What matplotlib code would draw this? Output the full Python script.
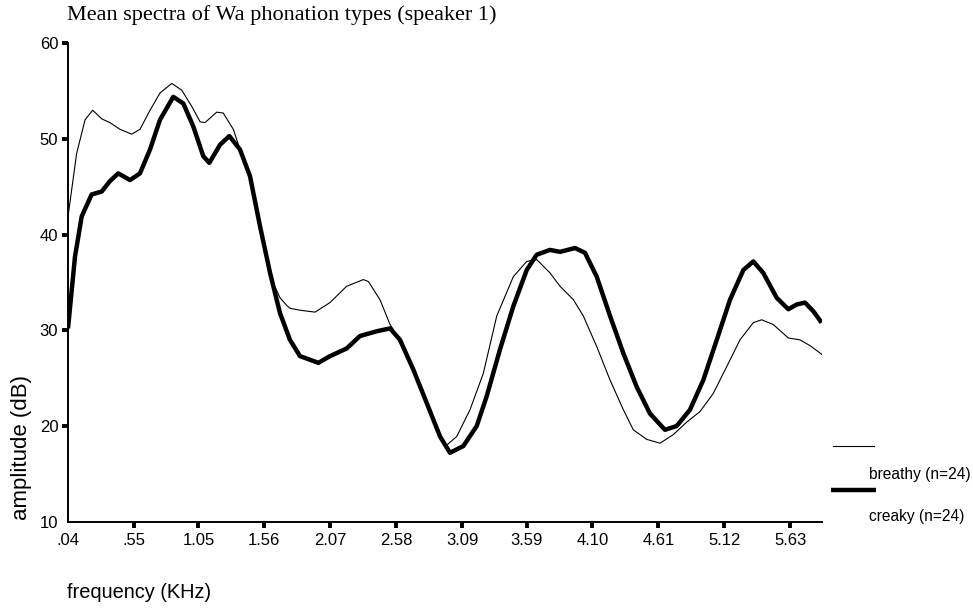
import matplotlib
matplotlib.use('Agg')
import matplotlib.pyplot as plt
from matplotlib.lines import Line2D

# frequency (kHz) / amplitude (dB)
breathy_freq = [0.04, 0.107, 0.172, 0.231, 0.301, 0.365, 0.443, 0.533, 0.597, 0.675,
                0.752, 0.843, 0.920, 0.998, 1.062, 1.100, 1.191, 1.242, 1.320, 1.371,
                1.449, 1.526, 1.604, 1.627, 1.681, 1.733, 1.758, 1.836, 1.952, 2.068,
                2.197, 2.326, 2.365, 2.455, 2.533, 2.610, 2.713, 2.817, 2.920, 2.972,
                3.049, 3.152, 3.255, 3.359, 3.487, 3.591, 3.668, 3.771, 3.849, 3.952,
                4.029, 4.133, 4.236, 4.339, 4.416, 4.520, 4.623, 4.726, 4.829, 4.932,
                5.035, 5.139, 5.242, 5.345, 5.410, 5.500, 5.616, 5.706, 5.784, 5.874]
breathy_db = [41.9, 48.5, 52.0, 53.0, 52.1, 51.7, 51.0, 50.5, 51.0, 53.0,
              54.8, 55.8, 55.1, 53.4, 51.8, 51.7, 52.8, 52.7, 51.0, 48.9,
              46.1, 40.9, 36.2, 35.0, 33.4, 32.6, 32.3, 32.1, 31.9, 32.9,
              34.6, 35.3, 35.1, 33.2, 30.6, 29.0, 25.9, 22.4, 18.9, 18.0,
              18.9, 21.7, 25.5, 31.5, 35.6, 37.2, 37.4, 36.0, 34.6, 33.2,
              31.5, 28.3, 24.8, 21.7, 19.6, 18.6, 18.2, 19.1, 20.4, 21.5,
              23.4, 26.2, 29.0, 30.8, 31.1, 30.6, 29.2, 29.0, 28.4, 27.5]

creaky_freq = [0.04, 0.094, 0.146, 0.223, 0.301, 0.365, 0.429, 0.520, 0.597, 0.675,
               0.752, 0.855, 0.933, 1.010, 1.087, 1.134, 1.217, 1.289, 1.371, 1.449,
               1.526, 1.604, 1.681, 1.758, 1.836, 1.978, 2.068, 2.197, 2.300, 2.430,
               2.533, 2.610, 2.713, 2.817, 2.920, 2.997, 3.100, 3.204, 3.281, 3.384,
               3.487, 3.591, 3.668, 3.771, 3.849, 3.965, 4.042, 4.133, 4.236, 4.339,
               4.442, 4.545, 4.661, 4.752, 4.855, 4.958, 5.062, 5.165, 5.268, 5.345,
               5.422, 5.526, 5.616, 5.681, 5.745, 5.809, 5.874]
creaky_db = [30.2, 37.7, 41.9, 44.2, 44.5, 45.6, 46.4, 45.7, 46.4, 48.9,
             52.0, 54.4, 53.7, 51.3, 48.2, 47.5, 49.4, 50.3, 48.9, 46.1,
             40.9, 36.0, 31.8, 29.0, 27.3, 26.6, 27.3, 28.1, 29.4, 29.9,
             30.2, 29.0, 25.9, 22.4, 18.9, 17.2, 17.9, 20.0, 23.1, 28.0,
             32.5, 36.3, 37.9, 38.4, 38.2, 38.6, 38.1, 35.6, 31.5, 27.6,
             24.1, 21.3, 19.6, 20.0, 21.7, 24.8, 29.0, 33.2, 36.3, 37.2,
             36.0, 33.4, 32.2, 32.7, 32.9, 32.0, 30.8]

x_ticks = ['.04', '.55', '1.05', '1.56', '2.07', '2.58', '3.09', '3.59', '4.10', '4.61', '5.12', '5.63']
y_ticks = [10, 20, 30, 40, 50, 60]

plt.rcParams['font.family'] = ['Liberation Sans', 'DejaVu Sans']

fig = plt.figure(figsize=(9.73, 6.10), dpi=100)
ax = fig.add_axes([0.0699, 0.1448, 0.7752, 0.7843])

ax.plot(breathy_freq, breathy_db, color='black', linewidth=0.8, solid_joinstyle='round')
ax.plot(creaky_freq, creaky_db, color='black', linewidth=3.2, solid_joinstyle='round',
        solid_capstyle='butt')

ax.set_xlim(0.04, 5.879)
ax.set_ylim(10, 60)
ax.set_xticks([float(t) for t in x_ticks])
ax.set_xticklabels(x_ticks)
ax.set_yticks(y_ticks)

for side in ['top', 'right']:
    ax.spines[side].set_visible(False)
for side in ['left', 'bottom']:
    ax.spines[side].set_linewidth(1.4)

ax.tick_params(axis='both', direction='out', length=4.5, width=2.8, labelsize=12)
ax.tick_params(axis='x', pad=4)
ax.tick_params(axis='y', pad=2.5)
ax.xaxis.get_major_ticks()[0].tick1line.set_visible(False)
ax.yaxis.get_major_ticks()[0].tick1line.set_visible(False)

fig.text(67 / 973, 1 - 15 / 610, 'Mean spectra of Wa phonation types (speaker 1)',
         family='Liberation Serif', fontsize=16, ha='left', va='center')
fig.text(22 / 973, 1 - 447 / 610, 'amplitude (dB)', fontsize=16, rotation=90,
         ha='center', va='center')
fig.text(67 / 973, 1 - 592 / 610, 'frequency (KHz)', fontsize=14.4, ha='left', va='center')

# hand-drawn legend at the right
fig.add_artist(Line2D([832.7 / 973, 874.3 / 973], [1 - 445.7 / 610] * 2,
                      color='black', linewidth=0.8))
fig.add_artist(Line2D([831 / 973, 876 / 973], [1 - 490 / 610] * 2,
                      color='black', linewidth=3.2, solid_capstyle='butt'))
fig.text(869.3 / 973, 1 - 475 / 610, 'breathy (n=24)', fontsize=11.2, ha='left', va='center')
fig.text(869.3 / 973, 1 - 516.7 / 610, 'creaky (n=24)', fontsize=11.2, ha='left', va='center')

fig.savefig('out.png', dpi=100, facecolor='white')
